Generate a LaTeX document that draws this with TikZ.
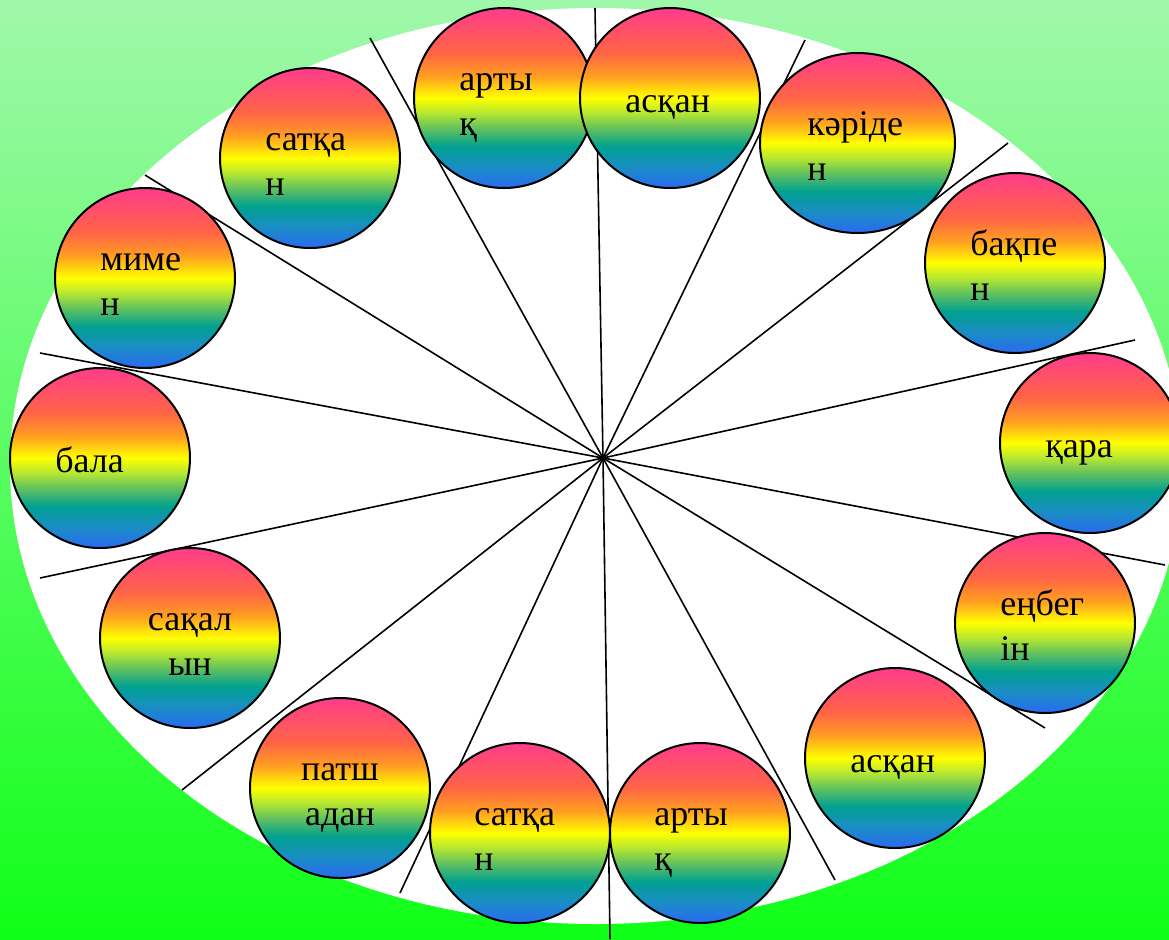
\documentclass[tikz,border=0pt]{standalone}
\usepackage{fontspec}
\setmainfont{Liberation Serif}
\usetikzlibrary{calc,positioning,shapes.geometric}

\definecolor{bgTop}{HTML}{A0F8AA}
\definecolor{bgBot}{HTML}{10FF18}
\definecolor{rbPink}{HTML}{FF3C8C}
\definecolor{rbCoral}{HTML}{FF6545}
\definecolor{rbOrange}{HTML}{FFA020}
\definecolor{rbYellow}{HTML}{FFFF00}
\definecolor{rbLime}{HTML}{B8E830}
\definecolor{rbGreen}{HTML}{60C060}
\definecolor{rbTeal}{HTML}{00A090}
\definecolor{rbSteel}{HTML}{1A8EC4}
\definecolor{rbBlue}{HTML}{2A6AF0}

\pgfdeclareverticalshading{rainbow}{100bp}{color(0bp)=(rbBlue); color(25bp)=(rbBlue);
  color(31bp)=(rbSteel); color(36.5bp)=(rbTeal); color(41.5bp)=(rbGreen);
  color(46bp)=(rbLime); color(50bp)=(rbYellow); color(56bp)=(rbOrange);
  color(62.5bp)=(rbCoral); color(75bp)=(rbPink); color(100bp)=(rbPink)}

\begin{document}
\begin{tikzpicture}[x=0.5pt, y=-0.5pt,
  ball/.style={circle, draw=black, line width=1pt, minimum size=90pt, inner sep=0pt, shade, shading=rainbow},
  word/.style={inner sep=0pt, anchor=base west, font=\fontsize{18pt}{22.5pt}\selectfont},
  spoke/.style={draw=black, line width=0.8pt}]
  \useasboundingbox (0,0) rectangle (1169,939);
  \clip (0,0) rectangle (1169,939);

  % Background and white plate
  \fill[top color=bgTop, bottom color=bgBot] (0,0) rectangle (1169,939);
  \fill[white] (596,466) ellipse [x radius=293pt, y radius=229pt];

  % Spokes
  \coordinate (hub) at (603,458);
  \foreach \ex/\ey [count=\i] in {595/8, 805/40, 1008/143, 1135/340, 1165/565, 1045/728, 835/880,
      610/939, 400/893, 182/790, 40/578, 40/353, 145/175, 370/38}
    {\coordinate (rim\i) at (\ex,\ey);
     \draw[spoke] (hub) -- (rim\i);}

  % Balls
  \node[ball] (artykA) at (504,98) {};
  \node[ball] (askanA) at (670,98) {};
  \node[ball, ellipse, minimum width=97.5pt, minimum height=90pt] (kariden) at (857.5,143) {};
  \node[ball] (bakpen) at (1015,263) {};
  \node[ball] (kara) at (1090,443) {};
  \node[ball] (enbegin) at (1045,623) {};
  \node[ball] (askanB) at (895,758) {};
  \node[ball] (artykB) at (700,833) {};
  \node[ball] (satkanB) at (520,833) {};
  \node[ball] (patshadan) at (340,788) {};
  \node[ball] (sakalyn) at (190,638) {};
  \node[ball] (bala) at (100,458) {};
  \node[ball] (mimen) at (145,278) {};
  \node[ball] (satkanA) at (310,158) {};

  % Words
  \node[word] (artykA-t) at ([shift={(-45,-8)}]artykA.center) {\parbox[t]{60pt}{\raggedright арты\\қ}};
  \node[word] (askanA-t) at ([shift={(-45,14)}]askanA.center) {асқан};
  \node[word] (kariden-t) at ([shift={(-50.5,-8)}]kariden.center) {\parbox[t]{60pt}{\raggedright кәріде\\н}};
  \node[word] (bakpen-t) at ([shift={(-45,-8)}]bakpen.center) {\parbox[t]{60pt}{\raggedright бақпе\\н}};
  \node[word] (kara-t) at ([shift={(-45,14)}]kara.center) {қара};
  \node[word] (enbegin-t) at ([shift={(-45,-8)}]enbegin.center) {\parbox[t]{60pt}{\raggedright еңбег\\ін}};
  \node[word] (askanB-t) at ([shift={(-45,14)}]askanB.center) {асқан};
  \node[word] (artykB-t) at ([shift={(-46,-8)}]artykB.center) {\parbox[t]{60pt}{\raggedright арты\\қ}};
  \node[word] (satkanB-t) at ([shift={(-46,-8)}]satkanB.center) {\parbox[t]{60pt}{\raggedright сатқа\\н}};
  \node[word, anchor=base] (patshadan-t) at ([shift={(0,-8)}]patshadan.center) {\parbox[t]{60pt}{\centering патш\\адан}};
  \node[word, anchor=base] (sakalyn-t) at ([shift={(0,-8)}]sakalyn.center) {\parbox[t]{60pt}{\centering сақал\\ын}};
  \node[word] (bala-t) at ([shift={(-45,14)}]bala.center) {бала};
  \node[word] (mimen-t) at ([shift={(-45,-8)}]mimen.center) {\parbox[t]{60pt}{\raggedright миме\\н}};
  \node[word] (satkanA-t) at ([shift={(-45,-8)}]satkanA.center) {\parbox[t]{60pt}{\raggedright сатқа\\н}};
\end{tikzpicture}
\end{document}
